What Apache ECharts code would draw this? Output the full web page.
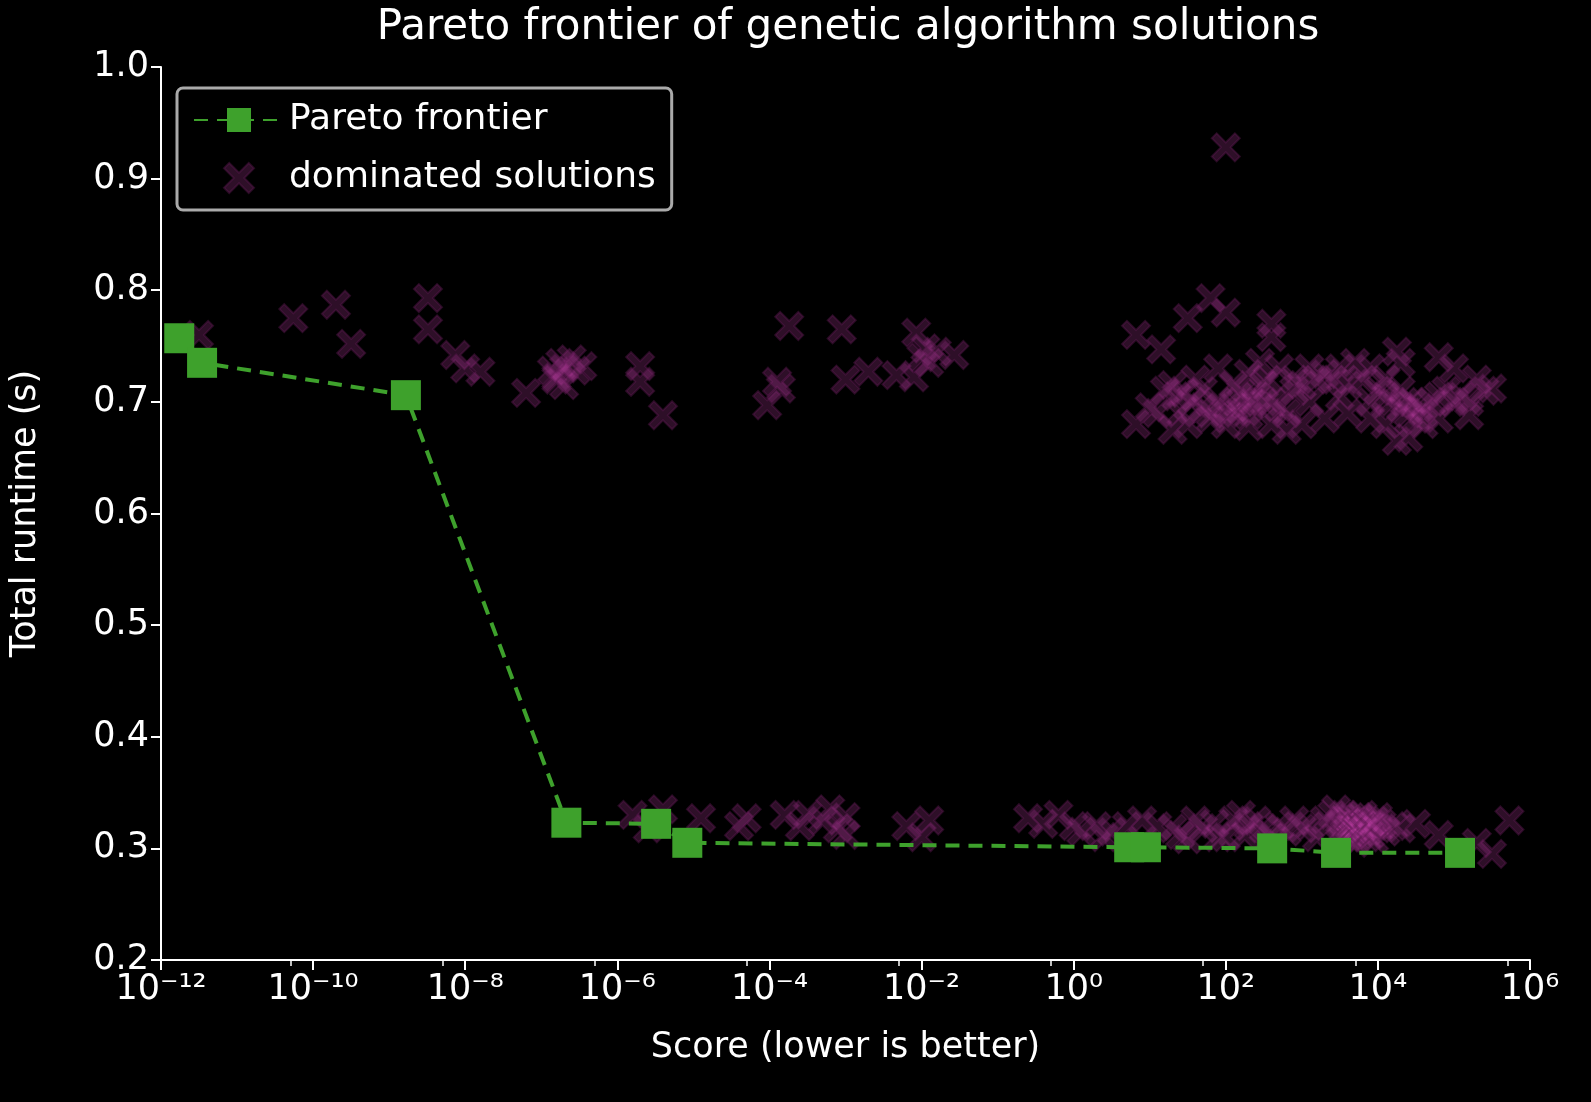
<!DOCTYPE html>
<html><head><meta charset="utf-8">
<script src="https://cdn.jsdelivr.net/npm/echarts@6/dist/echarts.min.js"></script>
<style>html,body{margin:0;background:#000}#c{width:1591px;height:1102px}</style>
</head><body><div id="c"></div>
<script>
// Pareto frontier: [log10(score), runtime]
const paretoLog = [[-11.76,0.757],[-11.46,0.735],[-8.78,0.706],[-6.67,0.323],[-5.49,0.322],[-5.08,0.305],[0.73,0.301],[0.95,0.301],[2.61,0.300],[3.45,0.296],[5.08,0.296]];
// Dominated solutions: [log10(score), runtime]
const domUpper = [[-11.5,0.76],[-10.26,0.775],[-9.7,0.787],[-9.5,0.752],[-8.49,0.793],[-8.49,0.765],[-8.13,0.742],[-8.0,0.73],[-7.8,0.727],[-7.2,0.708],[-6.86,0.728],[-6.8,0.72],[-6.75,0.735],[-6.7,0.715],[-6.6,0.738],[-6.55,0.728],[-6.46,0.732],[-6.8,0.722],[-6.7,0.73],[-5.7,0.732],[-5.7,0.718],[-5.4,0.688],[-4.03,0.697],[-3.9,0.718],[-3.85,0.712],[-3.74,0.768],[-3.05,0.765],[-3.0,0.72],[-2.7,0.727],[-2.33,0.724],[-2.1,0.722],[-2.07,0.762],[-1.95,0.748],[-1.9,0.735],[-1.8,0.745],[-1.57,0.742],[-2.0,0.74],
[0.82,0.76],[0.82,0.68],[1.0,0.695],[1.15,0.747],[1.3,0.675],[1.5,0.775],[1.8,0.793],[2.0,0.78],[2.0,0.928],[2.6,0.77],[2.6,0.758],[1.2,0.71],[1.35,0.705],[1.45,0.708],[1.55,0.7],[1.7,0.695],[1.8,0.69],[1.9,0.7],[2.0,0.69],[2.1,0.695],[2.2,0.7],[2.3,0.688],[2.4,0.705],[2.5,0.715],[2.55,0.72],[2.6,0.7],[2.7,0.695],[2.8,0.69],[2.9,0.71],[3.0,0.715],[3.2,0.72],[3.4,0.72],[3.6,0.715],[3.8,0.72],[4.0,0.71],[4.1,0.705],[4.2,0.7],[4.3,0.695],[4.35,0.7],[4.4,0.69],[4.5,0.685],[4.6,0.69],[4.7,0.7],[4.8,0.705],[4.9,0.71],[5.0,0.7],[5.1,0.705],[5.2,0.7],[5.3,0.72],[5.4,0.71],[5.5,0.712],
[1.3,0.715],[1.6,0.72],[1.9,0.73],[2.1,0.715],[2.3,0.725],[2.45,0.735],[2.7,0.73],[2.9,0.72],[3.1,0.73],[3.3,0.725],[3.5,0.73],[3.7,0.735],[3.9,0.73],[4.1,0.72],[4.25,0.745],[4.3,0.735],[4.8,0.74],[5.0,0.73],[1.1,0.69],[1.5,0.68],[1.8,0.685],[2.0,0.68],[2.3,0.678],[2.6,0.68],[2.8,0.675],[3.0,0.68],[3.3,0.685],[3.6,0.69],[3.9,0.685],[4.1,0.68],[4.25,0.665],[4.4,0.668],[4.6,0.68],[4.8,0.685],[5.2,0.688],[1.7,0.71],[2.2,0.708],[2.5,0.7],[3.1,0.7],[3.5,0.705],[3.9,0.7],[4.3,0.71],[4.45,0.7],[4.55,0.695],[1.4,0.69],[2.15,0.69],[2.35,0.7]];
const domLower = [[-5.8,0.33],[-5.6,0.318],[-5.4,0.335],[-4.9,0.327],[-4.4,0.32],[-4.3,0.327],[-3.8,0.33],[-3.6,0.32],[-3.5,0.33],[-3.3,0.325],[-3.2,0.335],[-3.1,0.318],[-3.0,0.312],[-3.0,0.328],[-2.2,0.32],[-2.0,0.31],[-1.9,0.325],[-0.6,0.327],[-0.4,0.322],[-0.2,0.33],[0.0,0.32],[0.1,0.315],[0.3,0.32],[0.5,0.315],[0.7,0.32],[0.9,0.325],[1.1,0.32],[1.3,0.318],[1.4,0.312],[1.6,0.325],[1.7,0.318],[1.85,0.322],[2.0,0.31],[2.1,0.325],[2.2,0.33],[2.3,0.32],[2.4,0.325],[2.5,0.318],[2.6,0.31],[2.7,0.32],[2.8,0.315],[2.9,0.325],[3.0,0.318],[3.1,0.32],[3.2,0.31],[3.3,0.325],[3.4,0.33],[3.5,0.322],[3.55,0.318],[3.6,0.325],[3.65,0.315],[3.7,0.32],[3.75,0.328],[3.8,0.322],[3.85,0.31],[3.9,0.32],[3.95,0.325],[4.0,0.318],[4.05,0.322],[4.1,0.315],[3.6,0.31],[3.7,0.305],[3.8,0.33],[3.9,0.312],[4.0,0.328],[3.5,0.308],[3.45,0.335],[4.2,0.32],[4.3,0.318],[4.5,0.322],[4.8,0.312],[5.3,0.305],[5.5,0.295],[5.73,0.325],[1.9,0.31],[2.25,0.312],[1.5,0.308],[0.4,0.31],[3.65,0.328],[3.75,0.312],[3.85,0.325],[3.95,0.308],[3.55,0.33],[3.62,0.32],[3.72,0.318],[3.82,0.318],[3.92,0.322]];

const X = 'path://M0,-1.4L2.6,-4L4,-2.6L1.4,0L4,2.6L2.6,4L0,1.4L-2.6,4L-4,2.6L-1.4,0L-4,-2.6L-2.6,-4Z';
const p = a => a.map(d => [Math.pow(10, d[0]), d[1]]);
const F = 'DejaVu Sans';
const sup = {'-':'⁻','0':'⁰','1':'¹','2':'²','3':'³','4':'⁴','5':'⁵','6':'⁶','7':'⁷','8':'⁸','9':'⁹'};
const chart = echarts.init(document.getElementById('c'));
chart.setOption({
  backgroundColor:'#000',
  animation:false,
  title:{text:'Pareto frontier of genetic algorithm solutions',left:843,top:2,textAlign:'center',textStyle:{color:'#fff',fontFamily:F,fontSize:42,fontWeight:'normal'}},
  grid:{left:157,right:61,top:67,bottom:142},
  legend:{left:177,top:88,orient:'vertical',itemGap:22,itemWidth:90,itemHeight:30,padding:[14,16,14,16],
    borderColor:'#aaa',borderWidth:3,borderRadius:6,backgroundColor:'#000',
    textStyle:{color:'#fff',fontFamily:F,fontSize:36},
    data:[{name:'Pareto frontier'},{name:'dominated solutions'}]},
  xAxis:{type:'log',logBase:10,min:1e-12,max:1e6,interval:2,
    name:'Score (lower is better)',nameLocation:'middle',nameGap:70,nameTextStyle:{color:'#fff',fontFamily:F,fontSize:35},
    axisLine:{lineStyle:{color:'#fff',width:2}},axisTick:{length:10,lineStyle:{width:2,color:'#fff'}},
    minorTick:{show:true,splitNumber:2,length:6,lineStyle:{color:'#fff',width:1.5}},
    splitLine:{show:false},
    axisLabel:{color:'#fff',fontFamily:F,fontSize:35,margin:12,formatter:v=>{const e=Math.round(Math.log10(v));return '10'+String(e).split('').map(c=>sup[c]).join('');}}},
  yAxis:{type:'value',min:0.2,max:1.0,interval:0.1,
    name:'Total runtime (s)',nameLocation:'middle',nameGap:118,nameTextStyle:{color:'#fff',fontFamily:F,fontSize:35},
    axisLine:{show:true,lineStyle:{color:'#fff',width:2}},axisTick:{show:true,length:10,lineStyle:{width:2,color:'#fff'}},
    splitLine:{show:false},
    axisLabel:{color:'#fff',fontFamily:F,fontSize:35,margin:12,formatter:v=>v.toFixed(1)}},
  series:[
    {name:'dominated solutions',type:'scatter',symbol:X,symbolSize:28,z:2,
     itemStyle:{color:'rgba(190,60,165,0.3)',borderColor:'rgba(90,25,80,0.55)',borderWidth:2},
     data:p(domUpper.concat(domLower))},
    {name:'Pareto frontier',type:'line',symbol:'rect',symbolSize:30,z:3,
     lineStyle:{color:'#3ea12c',width:4,type:[14,9]},itemStyle:{color:'#3ea12c'},
     data:p(paretoLog)}
  ]
});
</script></body></html>
